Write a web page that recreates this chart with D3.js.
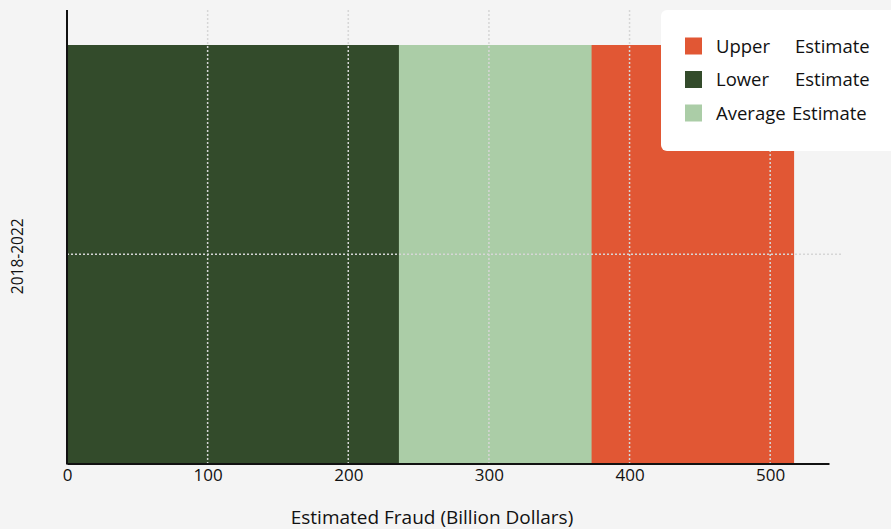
<!DOCTYPE html>
<html>
<head>
<meta charset="utf-8">
<script src="https://cdn.jsdelivr.net/npm/d3@7"></script>
<style>
  html, body { margin: 0; padding: 0; background: #f4f4f4; }
  svg { display: block; font-family: "Open Sans", "Noto Sans", sans-serif; }
</style>
</head>
<body>
<svg id="chart" width="891" height="529"></svg>
<script>
// Estimated fraud, 2018-2022, in billions of dollars
const periods = ["2018-2022"];
const seriesNames = ["Upper Estimate", "Lower Estimate", "Average Estimate"];
const upperValues = [517];
const averageValues = [373];
const lowerValues = [236];
const xTicks = [0, 100, 200, 300, 400, 500];
const seriesColors = ["#e15734", "#334b2b", "#abcda7"];

const svg = d3.select("#chart");
const margin = { left: 67, right: 62, top: 10, bottom: 66 };
const W = 891, H = 529;
const plotBottom = H - margin.bottom + 0.5;

const x = d3.scaleLinear()
  .domain([0, d3.max(upperValues) * 1.048])
  .range([margin.left, W - margin.right]);

// Bars drawn back to front: upper, then average, then lower
const layers = [
  { name: "Upper Estimate", values: upperValues, color: seriesColors[0] },
  { name: "Average Estimate", values: averageValues, color: seriesColors[2] },
  { name: "Lower Estimate", values: lowerValues, color: seriesColors[1] }
];

const barTop = 45;
const bars = svg.append("g");
layers.forEach(layer => {
  bars.selectAll(null)
    .data(periods.map((p, i) => ({ p, v: layer.values[i] })))
    .join("rect")
    .attr("x", x(0))
    .attr("y", barTop)
    .attr("width", d => x(d.v) - x(0))
    .attr("height", plotBottom - barTop)
    .attr("fill", layer.color);
});

// Dotted grid over the bars
const grid = svg.append("g")
  .attr("stroke", "#d6d6d6")
  .attr("stroke-width", 1.5)
  .attr("stroke-dasharray", "2,2");
grid.selectAll(null)
  .data(xTicks.filter(t => t > 0))
  .join("line")
  .attr("x1", d => x(d)).attr("x2", d => x(d))
  .attr("y1", margin.top).attr("y2", plotBottom);
const bandMid = (barTop + plotBottom) / 2;
grid.append("line")
  .attr("x1", x(0)).attr("x2", 841)
  .attr("y1", bandMid).attr("y2", bandMid);

// X axis
const xAxis = svg.append("g")
  .attr("transform", `translate(0,${plotBottom})`)
  .call(d3.axisBottom(x).tickValues(xTicks).tickSize(0).tickPadding(5));
xAxis.select(".domain").attr("stroke", "#111").attr("stroke-width", 2);
xAxis.attr("font-family", null).attr("font-size", null);
xAxis.selectAll(".tick text")
  .style("font-size", "17px")
  .style("font-family", "'Open Sans', 'Noto Sans', sans-serif")
  .attr("fill", "#111");

// Y axis line
svg.append("line")
  .attr("x1", x(0)).attr("x2", x(0))
  .attr("y1", margin.top).attr("y2", plotBottom + 1)
  .attr("stroke", "#111").attr("stroke-width", 2);

// Axis titles
svg.append("text")
  .attr("x", 432).attr("y", 524)
  .attr("text-anchor", "middle")
  .attr("font-size", 19).attr("fill", "#111")
  .text("Estimated Fraud (Billion Dollars)");

svg.append("text")
  .attr("transform", `translate(23,${bandMid + 2}) rotate(-90)`)
  .attr("text-anchor", "middle")
  .attr("font-size", 15.5).attr("fill", "#111")
  .text(periods[0]);

// Legend
const legend = svg.append("g");
legend.append("rect")
  .attr("x", 661).attr("y", 10)
  .attr("width", 250).attr("height", 141)
  .attr("rx", 6).attr("fill", "#ffffff");

const legendRows = [
  { words: ["Upper", "Estimate"], color: seriesColors[0] },
  { words: ["Lower", "Estimate"], color: seriesColors[1] },
  { words: ["Average", "Estimate"], color: seriesColors[2] }
];
legendRows.forEach((r, i) => {
  const cy = 46 + i * 33.5;
  legend.append("rect")
    .attr("x", 685).attr("y", cy - 8.5)
    .attr("width", 17).attr("height", 17)
    .attr("fill", r.color);
  const t = legend.append("text")
    .attr("y", cy + 6.5)
    .attr("font-size", 18.5).attr("fill", "#111");
  t.append("tspan").attr("x", 716).text(r.words[0]);
  t.append("tspan").attr("x", i < 2 ? 795 : 792).text(r.words[1]);
});
</script>
</body>
</html>
